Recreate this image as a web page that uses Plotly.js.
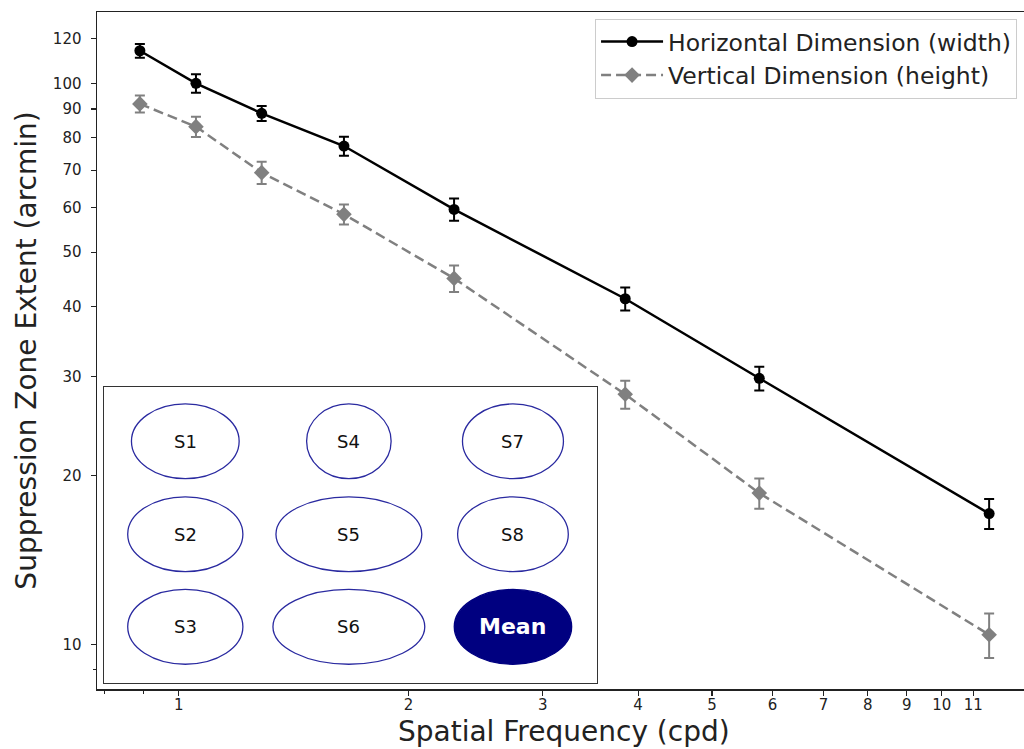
<!DOCTYPE html>
<html>
<head>
<meta charset="utf-8">
<script src="https://cdn.plot.ly/plotly-3.0.1.min.js"></script>
<style>html,body{margin:0;padding:0;background:#fff;}#chart{width:1024px;height:749px;}</style>
</head>
<body>
<div id="chart"></div>
<script>
// ---- data ----
const freq = [0.889, 1.053, 1.284, 1.646, 2.295, 3.847, 5.766, 11.54];
const widthVals = [114.3, 100.0, 88.4, 77.3, 59.6, 41.3, 29.8, 17.1];
const widthErr  = [3.2, 3.8, 2.7, 3.0, 2.7, 1.95, 1.45, 1.05];
const heightVals = [91.9, 83.7, 69.3, 58.4, 44.9, 27.9, 18.6, 10.4];
const heightErr  = [3.2, 3.5, 3.15, 2.4, 2.45, 1.6, 1.15, 0.95];

const xTickVals = [1, 2, 3, 4, 5, 6, 7, 8, 9, 10, 11];
const xTickText = ['1','2','3','4','5','6','7','8','9','10','11'];
const yTickVals = [10, 20, 30, 40, 50, 60, 70, 80, 90, 100, 120];
const yTickText = ['10','20','30','40','50','60','70','80','90','100','120'];
const xTitle = 'Spatial Frequency (cpd)';
const yTitle = 'Suppression Zone Extent (arcmin)';

// inset: relative zone shapes (width relative to height)
const insetLabels = ['S1','S2','S3','S4','S5','S6','S7','S8','Mean'];
const zoneWidth  = [1.44, 1.54, 1.54, 1.13, 1.95, 2.03, 1.35, 1.48, 1.57];
const zoneHeight = [1, 1, 1, 1, 1, 1, 1, 1, 1];

// ---- layout helpers ----
const colCenters = [1.087, 3.274, 5.468];
const rowCenters = [3.235, 1.993, 0.755];

const traces = [
  {
    x: freq, y: widthVals, type: 'scatter', mode: 'lines+markers',
    name: 'Horizontal Dimension (width)',
    line: {color: 'black', width: 2.5},
    marker: {color: 'black', symbol: 'circle', size: 11},
    error_y: {type: 'data', array: widthErr, visible: true, color: 'black', thickness: 2, width: 5},
    xaxis: 'x', yaxis: 'y'
  },
  {
    x: freq, y: heightVals, type: 'scatter', mode: 'lines+markers',
    name: 'Vertical Dimension (height)',
    line: {color: '#808080', width: 2.5, dash: '10px,5px'},
    marker: {color: '#808080', symbol: 'diamond', size: 12},
    error_y: {type: 'data', array: heightErr, visible: true, color: '#808080', thickness: 2, width: 5},
    xaxis: 'x', yaxis: 'y'
  }
];

const shapes = [];
const annotations = [];
insetLabels.forEach((lab, i) => {
  const cx = colCenters[Math.floor(i / 3)];
  const cy = rowCenters[i % 3];
  const isMean = lab === 'Mean';
  shapes.push({
    type: 'circle', xref: 'x2', yref: 'y2',
    x0: cx - zoneWidth[i] / 2, x1: cx + zoneWidth[i] / 2,
    y0: cy - zoneHeight[i] / 2, y1: cy + zoneHeight[i] / 2,
    line: {color: isMean ? '#000080' : '#2a2aa0', width: 1.3},
    fillcolor: isMean ? '#000080' : 'rgba(0,0,0,0)'
  });
  annotations.push({
    xref: 'x2', yref: 'y2', x: cx, y: cy, text: isMean ? '<b>Mean</b>' : lab,
    showarrow: false,
    font: {family: 'DejaVu Sans', size: isMean ? 22 : 18, color: isMean ? 'white' : '#111'}
  });
});
// x-axis title placed below the tick labels
annotations.push({
  xref: 'paper', yref: 'paper', x: 0.5043, y: -(749 - 689) / 677, xanchor: 'center', yanchor: 'bottom',
  text: xTitle, showarrow: false, borderpad: 0,
  font: {family: 'DejaVu Sans', size: 28, color: '#222'}
});

const axisCommon = {
  showline: true, linecolor: '#222', linewidth: 1.5, mirror: true,
  ticks: 'outside', ticklen: 5, tickwidth: 1.2, tickcolor: '#222',
  showgrid: false, zeroline: false,
  tickfont: {family: 'DejaVu Sans', size: 15, color: '#222'}
};

const layout = {
  width: 1024, height: 749,
  margin: {l: 97, r: 0, t: 12, b: 60},
  paper_bgcolor: 'white', plot_bgcolor: 'white',
  font: {family: 'DejaVu Sans', color: '#222'},
  xaxis: Object.assign({}, axisCommon, {
    type: 'log', range: [-0.1073, 1.1079],
    tickmode: 'array', tickvals: xTickVals, ticktext: xTickText,
    minor: {tickmode: 'array', tickvals: [0.8, 0.9], ticks: 'outside', ticklen: 3, tickwidth: 1, tickcolor: '#222'},
    ticklabelstandoff: -4,
    automargin: false
  }),
  yaxis: Object.assign({}, axisCommon, {
    type: 'log', range: [0.92032, 2.1271],
    tickmode: 'array', tickvals: yTickVals, ticktext: yTickText,
    minor: {tickmode: 'array', tickvals: [9], ticks: 'outside', ticklen: 3, tickwidth: 1, tickcolor: '#222'},
    ticklabelstandoff: 6,
    title: {text: yTitle, font: {family: 'DejaVu Sans', size: 28, color: '#222'}, standoff: 8},
    automargin: false
  }),
  xaxis2: {
    domain: [0.00755, 0.539], anchor: 'y2', range: [0, 6.587], fixedrange: true,
    showline: true, mirror: true, linecolor: '#333', linewidth: 1.2,
    showticklabels: false, ticks: '', showgrid: false, zeroline: false
  },
  yaxis2: {
    domain: [0.00842, 0.4465], anchor: 'x2', range: [0, 3.965], fixedrange: true,
    showline: true, mirror: true, linecolor: '#333', linewidth: 1.2,
    showticklabels: false, ticks: '', showgrid: false, zeroline: false
  },
  shapes: shapes,
  annotations: annotations,
  showlegend: true,
  legend: {
    x: 0.9925, xanchor: 'right', y: 0.99, yanchor: 'top',
    bgcolor: 'rgba(255,255,255,0.8)', bordercolor: '#cccccc', borderwidth: 1,
    font: {family: 'DejaVu Sans', size: 23.5, color: '#222'},
    itemwidth: 62, tracegroupgap: 0
  }
};

Plotly.newPlot('chart', traces, layout, {displayModeBar: false, staticPlot: true});
</script>
</body>
</html>
